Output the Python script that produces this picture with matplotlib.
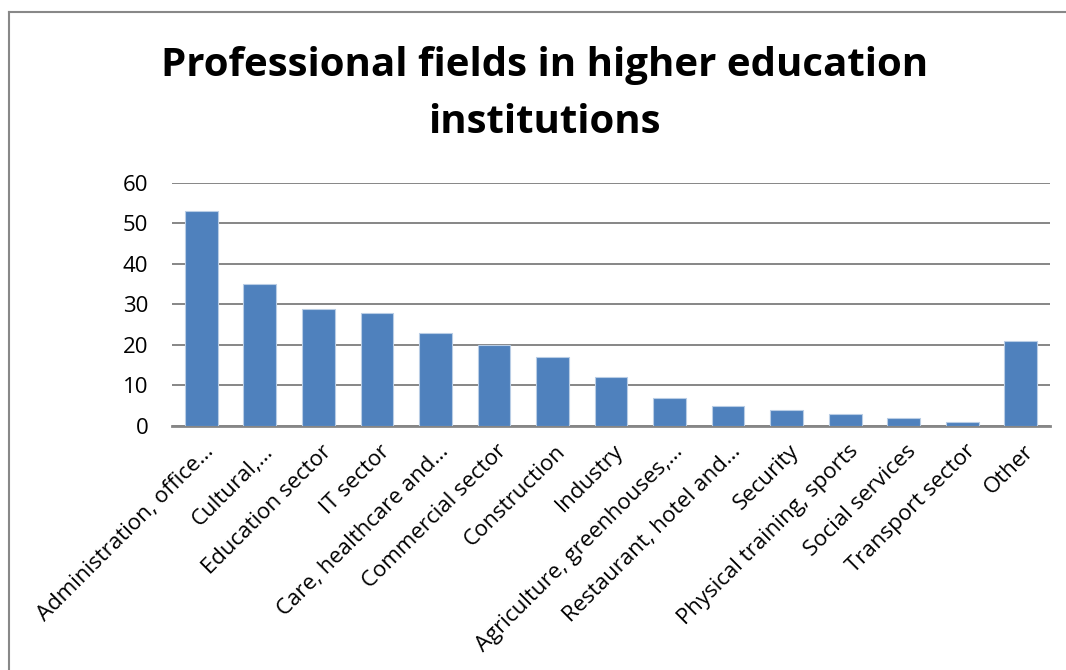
import matplotlib.pyplot as plt
import matplotlib.transforms as mtransforms
from matplotlib.lines import Line2D

fields = ['Administration, office…', 'Cultural,…', 'Education sector', 'IT sector',
          'Care, healthcare and…', 'Commercial sector', 'Construction', 'Industry',
          'Agriculture, greenhouses,…', 'Restaurant, hotel and…', 'Security',
          'Physical training, sports', 'Social services', 'Transport sector', 'Other']
counts = [53, 35, 29, 28, 23, 20, 17, 12, 7, 5, 4, 3, 2, 1, 21]

plt.rcParams['font.family'] = ['Open Sans', 'DejaVu Sans']

fig = plt.figure(figsize=(10.66, 6.70), dpi=100)
ax = fig.add_axes([0.1614, 0.3642, 0.8236, 0.3627])

x = range(len(fields))
ax.bar(x, counts, width=0.56, color='#4F81BD', edgecolor='#B9CDE5', linewidth=0.8, zorder=3)

ax.set_xlim(-0.5, len(fields) - 0.5)
ax.set_ylim(0, 60)
ax.set_yticks(range(0, 61, 10))
ax.yaxis.grid(True, color='#868686', linewidth=1.4, zorder=0)
ax.tick_params(axis='y', length=0, pad=17, labelsize=16)
ax.tick_params(axis='x', length=0, pad=16, labelsize=16)
ax.set_xticks(list(x))
ax.set_xticklabels(fields, rotation=45, ha='right', va='center', rotation_mode='anchor')

# nudge the slanted labels a little to the right of their bars
shift = mtransforms.ScaledTranslation(7 / 72, 0, fig.dpi_scale_trans)
for lbl in ax.get_xticklabels():
    lbl.set_transform(lbl.get_transform() + shift)

for side in ['top', 'right', 'left']:
    ax.spines[side].set_visible(False)
ax.spines['bottom'].set_color('#868686')
ax.spines['bottom'].set_linewidth(2)

fig.text(0.511, 0.860, 'Professional fields in higher education\ninstitutions',
         ha='center', va='center', fontsize=29, fontweight='bold', linespacing=1.6)

# chart frame
fig.add_artist(Line2D([9 / 1066, 1.0], [1 - 12 / 670] * 2, color='#888888', linewidth=1.5))
fig.add_artist(Line2D([9 / 1066] * 2, [0.0, 1 - 12 / 670], color='#888888', linewidth=1.5))

fig.savefig('out.png', dpi=100)
